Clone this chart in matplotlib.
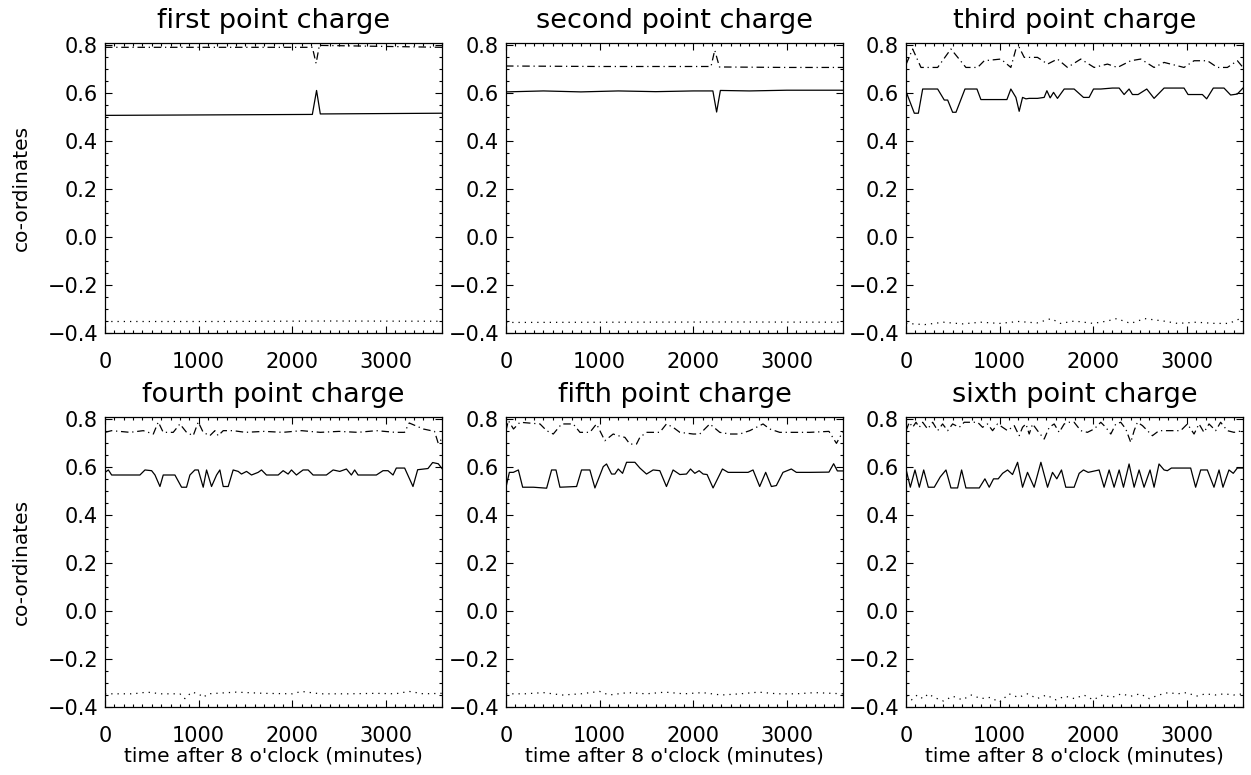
import numpy as np
import matplotlib
matplotlib.use("Agg")
import matplotlib.pyplot as plt
from matplotlib.ticker import MultipleLocator, FuncFormatter

# panel titles
titles = ["first point charge", "second point charge", "third point charge",
          "fourth point charge", "fifth point charge", "sixth point charge"]

# ---- panel 1 ----
p1_t_solid = [0, 2215, 2260, 2300, 3600]
p1_v_solid = [0.508, 0.512, 0.612, 0.514, 0.517]
p1_t_dash = [0, 2215, 2255, 2290, 3600]
p1_v_dash = [0.792, 0.792, 0.725, 0.800, 0.792]
p1_t_dot = [0, 1200, 2400, 3600]
p1_v_dot = [-0.352, -0.352, -0.350, -0.351]

# ---- panel 2 ----
p2_t_solid = [0, 400, 800, 1200, 1600, 2000, 2210, 2250, 2290, 2600, 3000, 3600]
p2_v_solid = [0.606, 0.610, 0.606, 0.610, 0.607, 0.610, 0.610, 0.522, 0.612, 0.610, 0.613, 0.613]
p2_t_dash = [0, 1000, 2000, 2190, 2230, 2280, 3000, 3600]
p2_v_dash = [0.714, 0.712, 0.712, 0.712, 0.780, 0.710, 0.708, 0.708]
p2_t_dot = [0, 1200, 2400, 3600]
p2_v_dot = [-0.356, -0.355, -0.354, -0.355]

# ---- panel 3 ----
p3_t_solid = [0, 89, 132, 178, 338, 409, 445, 498, 534, 630, 758, 800, 1078, 1120, 1174,
              1209, 1245, 1281, 1316, 1405, 1476, 1505, 1540, 1576, 1618, 1690, 1796, 1896,
              1956, 2003, 2081, 2205, 2277, 2330, 2383, 2419, 2479, 2572, 2650, 2757, 2970,
              3013, 3166, 3212, 3283, 3397, 3468, 3539, 3600]
p3_v_solid = [0.608, 0.517, 0.517, 0.618, 0.618, 0.572, 0.572, 0.521, 0.521, 0.618, 0.618,
              0.574, 0.574, 0.618, 0.583, 0.525, 0.583, 0.577, 0.579, 0.579, 0.583, 0.611,
              0.581, 0.604, 0.579, 0.618, 0.618, 0.583, 0.583, 0.618, 0.618, 0.622, 0.622,
              0.595, 0.618, 0.595, 0.595, 0.618, 0.579, 0.622, 0.622, 0.595, 0.595, 0.577,
              0.622, 0.622, 0.593, 0.597, 0.622]
p3_t_dash = [0, 71, 160, 338, 480, 640, 765, 836, 1014, 1120, 1174, 1209, 1263, 1405, 1512,
             1618, 1725, 1867, 2010, 2152, 2259, 2401, 2508, 2650, 2757, 2970, 3077, 3220,
             3326, 3433, 3540, 3600]
p3_v_dash = [0.720, 0.785, 0.708, 0.708, 0.785, 0.708, 0.708, 0.736, 0.743, 0.708, 0.785,
             0.792, 0.750, 0.750, 0.722, 0.743, 0.708, 0.743, 0.708, 0.722, 0.708, 0.736,
             0.743, 0.708, 0.729, 0.708, 0.736, 0.736, 0.708, 0.708, 0.736, 0.708]
p3_t_dot = [0, 200, 400, 600, 800, 1000, 1200, 1400, 1550, 1650, 1800, 2000, 2150, 2250,
            2400, 2550, 2650, 2750, 2900, 3100, 3300, 3450, 3600]
p3_v_dot = [-0.360, -0.365, -0.355, -0.362, -0.355, -0.360, -0.352, -0.358, -0.340, -0.360,
            -0.350, -0.360, -0.350, -0.340, -0.360, -0.340, -0.345, -0.350, -0.360, -0.355,
            -0.360, -0.360, -0.335]

# ---- panel 4 ----
p4_t_solid = [0, 36, 71, 373, 427, 498, 534, 587, 622, 747, 818, 871, 907, 960, 996, 1049,
              1085, 1138, 1192, 1227, 1263, 1316, 1369, 1423, 1458, 1512, 1565, 1636, 1672,
              1725, 1850, 1903, 1956, 1992, 2045, 2081, 2116, 2170, 2223, 2365, 2437, 2508,
              2579, 2632, 2667, 2703, 2899, 2970, 3023, 3077, 3112, 3201, 3290, 3340, 3450,
              3500, 3560, 3600]
p4_v_solid = [0.579, 0.589, 0.568, 0.568, 0.589, 0.586, 0.568, 0.520, 0.568, 0.568, 0.517,
              0.517, 0.568, 0.589, 0.589, 0.517, 0.589, 0.520, 0.568, 0.589, 0.520, 0.520,
              0.589, 0.583, 0.572, 0.583, 0.568, 0.579, 0.589, 0.568, 0.568, 0.586, 0.572,
              0.589, 0.568, 0.579, 0.589, 0.589, 0.568, 0.568, 0.589, 0.583, 0.593, 0.568,
              0.589, 0.568, 0.568, 0.586, 0.586, 0.568, 0.597, 0.597, 0.520, 0.590, 0.595,
              0.620, 0.615, 0.595]
p4_t_dash = [0, 71, 267, 409, 516, 569, 622, 729, 800, 871, 942, 996, 1049, 1120, 1174,
             1209, 1263, 1369, 1500, 1700, 1900, 2100, 2300, 2500, 2700, 2900, 3100, 3200,
             3250, 3400, 3520, 3560, 3600]
p4_v_dash = [0.746, 0.753, 0.746, 0.753, 0.739, 0.789, 0.746, 0.746, 0.781, 0.746, 0.732,
             0.789, 0.746, 0.732, 0.753, 0.732, 0.753, 0.753, 0.746, 0.750, 0.746, 0.753,
             0.746, 0.750, 0.746, 0.753, 0.746, 0.746, 0.785, 0.760, 0.750, 0.700, 0.720]
p4_t_dot = [0, 300, 450, 600, 800, 854, 925, 1000, 1050, 1100, 1400, 1700, 2000, 2100,
            2300, 2600, 2900, 3100, 3250, 3400, 3600]
p4_v_dot = [-0.345, -0.345, -0.338, -0.345, -0.345, -0.365, -0.338, -0.345, -0.360, -0.345,
            -0.338, -0.343, -0.345, -0.335, -0.345, -0.345, -0.343, -0.345, -0.335, -0.345,
            -0.343]

# ---- panel 5 ----
p5_t_solid = [0, 36, 78, 132, 178, 292, 434, 487, 534, 576, 754, 807, 896, 950, 1039, 1074,
              1128, 1163, 1199, 1245, 1288, 1377, 1430, 1501, 1572, 1643, 1714, 1785, 1857,
              1928, 1971, 2017, 2063, 2106, 2148, 2212, 2312, 2373, 2586, 2639, 2710, 2774,
              2835, 2888, 2959, 3048, 3102, 3244, 3450, 3500, 3540, 3600]
p5_v_solid = [0.517, 0.579, 0.579, 0.589, 0.517, 0.517, 0.513, 0.589, 0.589, 0.517, 0.520,
              0.589, 0.589, 0.514, 0.603, 0.614, 0.572, 0.572, 0.593, 0.575, 0.621, 0.621,
              0.597, 0.572, 0.589, 0.586, 0.520, 0.589, 0.570, 0.572, 0.593, 0.575, 0.586,
              0.572, 0.570, 0.514, 0.593, 0.579, 0.579, 0.589, 0.520, 0.579, 0.520, 0.524,
              0.579, 0.593, 0.579, 0.579, 0.580, 0.615, 0.585, 0.585]
p5_t_dash = [0, 25, 80, 149, 363, 434, 505, 594, 718, 790, 896, 967, 1056, 1145, 1199, 1270,
             1323, 1394, 1430, 1501, 1643, 1714, 1785, 1857, 1999, 2070, 2177, 2284, 2390,
             2497, 2604, 2746, 2817, 2924, 3244, 3450, 3530, 3600]
p5_v_dash = [0.753, 0.795, 0.760, 0.788, 0.781, 0.753, 0.739, 0.781, 0.781, 0.746, 0.746,
             0.781, 0.711, 0.739, 0.732, 0.725, 0.697, 0.697, 0.725, 0.746, 0.746, 0.781,
             0.767, 0.746, 0.739, 0.739, 0.781, 0.746, 0.739, 0.739, 0.753, 0.781, 0.760,
             0.746, 0.746, 0.750, 0.700, 0.750]
p5_t_dot = [0, 200, 400, 600, 800, 1000, 1100, 1300, 1500, 1700, 1900, 2100, 2300, 2500,
            2700, 2900, 3100, 3300, 3600]
p5_v_dot = [-0.345, -0.345, -0.340, -0.350, -0.345, -0.335, -0.350, -0.340, -0.345, -0.338,
            -0.345, -0.340, -0.350, -0.345, -0.338, -0.345, -0.345, -0.340, -0.345]

# ---- panel 6 ----
p6_t_solid = [0, 46, 96, 142, 189, 238, 302, 366, 427, 480, 551, 594, 640, 783, 843, 889,
              935, 985, 1032, 1085, 1138, 1192, 1245, 1298, 1369, 1441, 1512, 1565, 1611,
              1661, 1707, 1796, 1850, 1896, 1946, 2063, 2116, 2170, 2223, 2277, 2323, 2383,
              2437, 2490, 2543, 2607, 2650, 2703, 2757, 2792, 2835, 3041, 3094, 3148, 3219,
              3290, 3344, 3386, 3450, 3496, 3539, 3600]
p6_v_solid = [0.593, 0.517, 0.589, 0.517, 0.589, 0.517, 0.517, 0.560, 0.589, 0.514, 0.514,
              0.589, 0.514, 0.514, 0.552, 0.517, 0.552, 0.552, 0.575, 0.589, 0.570, 0.621,
              0.517, 0.579, 0.517, 0.621, 0.517, 0.579, 0.552, 0.589, 0.517, 0.517, 0.575,
              0.589, 0.579, 0.589, 0.517, 0.589, 0.517, 0.589, 0.517, 0.614, 0.517, 0.589,
              0.517, 0.589, 0.517, 0.614, 0.589, 0.586, 0.597, 0.597, 0.517, 0.589, 0.589,
              0.517, 0.589, 0.517, 0.589, 0.575, 0.597, 0.597]
p6_t_dash = [0, 36, 71, 107, 142, 178, 231, 285, 338, 391, 445, 498, 569, 622, 693, 765, 818,
             871, 925, 978, 1032, 1085, 1156, 1209, 1245, 1281, 1316, 1352, 1405, 1476, 1530,
             1583, 1636, 1690, 1743, 1796, 1867, 1938, 2010, 2081, 2134, 2188, 2241, 2294,
             2348, 2401, 2437, 2472, 2526, 2579, 2632, 2703, 2792, 2934, 3006, 3077, 3130,
             3183, 3237, 3308, 3361, 3432, 3504, 3600]
p6_v_dash = [0.753, 0.788, 0.767, 0.788, 0.767, 0.788, 0.760, 0.788, 0.753, 0.781, 0.753,
             0.781, 0.767, 0.788, 0.788, 0.788, 0.767, 0.781, 0.753, 0.781, 0.767, 0.753,
             0.774, 0.732, 0.767, 0.781, 0.739, 0.781, 0.753, 0.718, 0.767, 0.781, 0.746,
             0.781, 0.788, 0.788, 0.753, 0.746, 0.760, 0.788, 0.767, 0.739, 0.781, 0.788,
             0.760, 0.704, 0.753, 0.788, 0.774, 0.753, 0.732, 0.753, 0.753, 0.753, 0.781,
             0.739, 0.781, 0.746, 0.781, 0.753, 0.788, 0.753, 0.746, 0.753]
p6_t_dot = [0, 60, 120, 180, 240, 300, 400, 500, 600, 700, 800, 900, 1000, 1100, 1200, 1300,
            1400, 1500, 1600, 1700, 1800, 1900, 2000, 2100, 2200, 2300, 2400, 2500, 2600,
            2700, 2800, 2900, 3000, 3100, 3200, 3300, 3400, 3500, 3600]
p6_v_dot = [-0.355, -0.370, -0.350, -0.365, -0.345, -0.360, -0.375, -0.355, -0.370, -0.350,
            -0.365, -0.360, -0.380, -0.345, -0.360, -0.345, -0.365, -0.350, -0.370, -0.355,
            -0.365, -0.350, -0.370, -0.350, -0.360, -0.345, -0.355, -0.345, -0.365, -0.350,
            -0.340, -0.345, -0.340, -0.355, -0.345, -0.350, -0.345, -0.350, -0.345]

panels = [
    (p1_t_solid, p1_v_solid, p1_t_dash, p1_v_dash, p1_t_dot, p1_v_dot),
    (p2_t_solid, p2_v_solid, p2_t_dash, p2_v_dash, p2_t_dot, p2_v_dot),
    (p3_t_solid, p3_v_solid, p3_t_dash, p3_v_dash, p3_t_dot, p3_v_dot),
    (p4_t_solid, p4_v_solid, p4_t_dash, p4_v_dash, p4_t_dot, p4_v_dot),
    (p5_t_solid, p5_v_solid, p5_t_dash, p5_v_dash, p5_t_dot, p5_v_dot),
    (p6_t_solid, p6_v_solid, p6_t_dash, p6_v_dash, p6_t_dot, p6_v_dot),
]

plt.rcParams['font.family'] = ['DejaVu Sans']

W, H = 1251, 775
fig = plt.figure(figsize=(W / 100, H / 100), dpi=100)

lefts = [105, 506, 906]
tops = [43, 417]
aw, ah = 337, 290

# y labels with a real minus sign
yfmt = FuncFormatter(lambda v, pos: ('%.1f' % v).replace('-', '\u2212'))

for i, (ts, vs, td, vd, to, vo) in enumerate(panels):
    row, col = divmod(i, 3)
    ax = fig.add_axes([lefts[col] / W, 1 - (tops[row] + ah) / H, aw / W, ah / H])
    ax.plot(ts, vs, color='black', lw=0.9)
    ax.plot(td, vd, color='black', lw=0.9, linestyle=(0, (6, 3, 1, 3)))
    ax.plot(to, vo, color='black', lw=0.9, linestyle=(0, (1, 4)))

    ax.set_xlim(0, 3600)
    ax.set_ylim(-0.40, 0.81)
    ax.xaxis.set_major_locator(MultipleLocator(1000))
    ax.xaxis.set_minor_locator(MultipleLocator(100))
    ax.yaxis.set_major_locator(MultipleLocator(0.2))
    ax.yaxis.set_minor_locator(MultipleLocator(0.05))
    ax.yaxis.set_major_formatter(yfmt)
    ax.tick_params(which='both', direction='in', top=True, right=True,
                   labelsize=15, width=0.8)
    ax.tick_params(axis='x', pad=14)
    ax.tick_params(axis='y', pad=5)
    ax.tick_params(which='major', length=5)
    ax.tick_params(which='minor', length=2.5)
    for sp in ax.spines.values():
        sp.set_linewidth(0.9)

    ax.set_title(titles[i], fontsize=19.5, pad=11)
    if col == 0:
        ax.set_ylabel("co-ordinates", fontsize=14.5, labelpad=12)
    if row == 1:
        ax.set_xlabel("time after 8 o'clock (minutes)", fontsize=14.5, labelpad=0)

fig.savefig("out.png", dpi=100)
